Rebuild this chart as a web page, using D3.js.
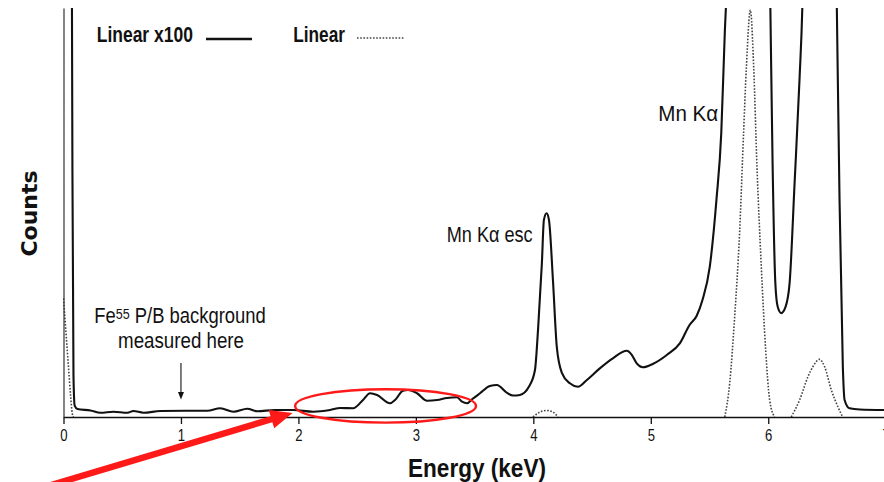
<!DOCTYPE html>
<html>
<head>
<meta charset="utf-8">
<script src="https://cdn.jsdelivr.net/npm/d3@7"></script>
<style>
  html, body { margin: 0; padding: 0; background: #fff; }
  svg { display: block; }
</style>
</head>
<body>
<svg id="chart" width="884" height="482"></svg>
<script>
// ---------------- data (energy keV, relative counts) ----------------
const xTicks = [0, 1, 2, 3, 4, 5, 6, 7];

// "Linear x100" spectrum (solid)
const linearX100 = [
  [0.068,140],[0.076,60],[0.085,10],[0.095,2.8],[0.119,1.96],[0.23,1.6],[0.315,1.05],
  [0.425,1.3],[0.544,1.05],[0.595,1.47],[0.68,1.05],[0.825,1.47],[1.04,1.54],[1.224,1.54],
  [1.335,2.13],[1.446,1.3],[1.565,2.03],[1.65,1.4],[1.80,1.71],[1.956,1.71],[2.126,1.3],
  [2.27,1.71],[2.355,2.2],[2.466,2.13],[2.55,4.16],[2.61,5.8],[2.67,5.38],[2.78,3.35],
  [2.823,4.16],[2.89,6.43],[2.934,6.6],[3.01,5.8],[3.095,3.99],[3.18,4.16],[3.265,4.65],
  [3.35,4.82],[3.393,3.74],[3.435,3.35],[3.478,4.33],[3.546,5.8],[3.63,7.58],[3.69,7.82],
  [3.776,5.9],[3.827,5.25],[3.886,5.4],[3.962,7.4],[4.014,11.5],[4.04,21.3],[4.073,37.7],
  [4.09,48.2],[4.113,49.8],[4.133,48.2],[4.167,33.5],[4.2,17.1],[4.243,10.8],[4.311,8.24],
  [4.38,7.4],[4.456,9.05],[4.566,11.9],[4.677,14.35],[4.796,16.2],[4.838,15.2],[4.88,13.1],
  [4.932,12.15],[5.017,12.96],[5.136,15.16],[5.247,18.0],[5.33,22.5],[5.39,24.7],[5.44,28.6],
  [5.502,36.7],[5.559,53.1],[5.60,69.4],[5.63,93.9],[5.646,105],[5.68,150],[5.85,400],
  [5.99,150],[6.018,100],[6.037,62],[6.06,33],[6.08,27],[6.11,25.4],[6.148,27],[6.182,32.8],
  [6.224,57],[6.267,83],[6.29,100],[6.32,150],[6.45,300],[6.56,150],[6.584,100],[6.607,53.1],
  [6.635,12.3],[6.65,4.16],[6.692,2.13],[6.78,1.83],[7.0,1.71]
];

// "Linear" spectrum (dotted), drawn where it leaves the baseline
const linearLow = [[0,29],[0.0425,12.2],[0.06,5.4],[0.074,1.0],[0.085,0]];
const linearEsc = [[3.997,0],[4.056,1.2],[4.113,1.6],[4.167,1.2],[4.21,0]];
const linearKa  = [[5.63,0],[5.672,8.3],[5.714,24.5],[5.756,45],[5.79,69.4],[5.814,85.6],
  [5.848,99.5],[5.876,85.6],[5.904,61.2],[5.941,36.7],[5.978,16.4],[6.012,4.16],[6.054,0]];
const linearKb  = [[6.196,0],[6.267,4.16],[6.338,9.85],[6.38,12.3],[6.437,14.1],[6.48,12.3],
  [6.537,6.6],[6.593,2.5],[6.633,0]];

// ---------------- layout ----------------
const SANS = "'Liberation Sans',Arial,sans-serif";
const svg = d3.select("#chart");
const x = d3.scaleLinear().domain([0, 7]).range([63.5, 885.7]);
const y = d3.scaleLinear().domain([0, 100]).range([417, 8]);

svg.append("defs").append("clipPath").attr("id", "plotclip")
  .append("rect").attr("x", 63).attr("y", 8).attr("width", 830).attr("height", 412);

const line = d3.line().x(d => x(d[0])).y(d => y(d[1])).curve(d3.curveMonotoneX);
const plot = svg.append("g").attr("clip-path", "url(#plotclip)");

// dotted series
[linearLow, linearEsc, linearKa, linearKb].forEach(seg => {
  plot.append("path").datum(seg).attr("d", line)
    .attr("fill", "none").attr("stroke", "#444").attr("stroke-width", 1.6)
    .attr("stroke-dasharray", "1.6,1.6");
});

// solid series
plot.append("path").datum(linearX100).attr("d", line)
  .attr("fill", "none").attr("stroke", "#111").attr("stroke-width", 2.1)
  .attr("stroke-linejoin", "round");

// axes
const xAxis = svg.append("g").attr("transform", `translate(0,${y(0)})`)
  .call(d3.axisBottom(x).tickValues(xTicks).tickFormat(d3.format("d"))
    .tickSize(7).tickSizeOuter(0).tickPadding(6));
xAxis.select(".domain").attr("stroke", "#111").attr("stroke-width", 1.6);
xAxis.selectAll(".tick line").attr("stroke", "#111").attr("stroke-width", 1.3);
xAxis.selectAll(".tick text").attr("font-family", SANS).attr("font-size", 16)
  .attr("fill", "#111").attr("transform", "scale(0.82,1)");

const yAxis = svg.append("g").attr("transform", `translate(${x(0)},0)`)
  .call(d3.axisLeft(y).tickValues([]).tickSizeOuter(0));
yAxis.select(".domain").attr("stroke", "#333").attr("stroke-width", 1.2);

// text helper: places text at (px,py) and squeezes it horizontally to a width
function fitText(px, py, width, opts, build) {
  const g = svg.append("g").attr("transform", `translate(${px},${py})`);
  const t = g.append("text").attr("x", 0).attr("y", 0)
    .attr("font-family", opts.family || SANS)
    .attr("font-size", opts.size)
    .attr("font-weight", opts.weight || "normal")
    .attr("text-anchor", opts.anchor || "start")
    .attr("fill", "#111");
  if (typeof build === "string") t.text(build); else build(t);
  const w = t.node().getComputedTextLength();
  if (width && w > 0) t.attr("transform", `scale(${width / w},1)`);
  return t;
}

// axis titles
svg.append("text").attr("transform", "translate(36.5,213.5) rotate(-90)")
  .attr("text-anchor", "middle").attr("font-family", "'DejaVu Sans',sans-serif")
  .attr("font-weight", "bold").attr("font-size", 22).attr("fill", "#111").text("Counts");
fitText(477, 476.7, 138, {size: 25.5, weight: "bold", anchor: "middle"}, "Energy (keV)");

// legend
fitText(96.7, 42.3, 96.3, {size: 22, weight: "bold"}, "Linear x100");
svg.append("line").attr("x1", 206).attr("x2", 252).attr("y1", 39).attr("y2", 39)
  .attr("stroke", "#111").attr("stroke-width", 2.6);
fitText(293.3, 42.3, 51.7, {size: 22, weight: "bold"}, "Linear");
svg.append("line").attr("x1", 357).attr("x2", 405).attr("y1", 38).attr("y2", 38)
  .attr("stroke", "#444").attr("stroke-width", 1.6).attr("stroke-dasharray", "1.6,1.6");

// peak labels
fitText(658.3, 121, 60, {size: 22}, "Mn Kα");
fitText(446.7, 241.7, 86, {size: 22}, "Mn Kα esc");

// background note
fitText(180, 323.3, 171.7, {size: 22, anchor: "middle"}, t => {
  t.append("tspan").text("Fe");
  t.append("tspan").attr("font-size", 15).attr("dy", -4.5).text("55");
  t.append("tspan").attr("dy", 4.5).text(" P/B background");
});
fitText(181, 348.3, 126, {size: 22, anchor: "middle"}, "measured here");

// small black arrow
const ax = x(1);
svg.append("line").attr("x1", ax).attr("x2", ax).attr("y1", 363).attr("y2", 393)
  .attr("stroke", "#111").attr("stroke-width", 1.1);
svg.append("path").attr("d", `M${ax-3},392 L${ax+3},392 L${ax},399.5 Z`).attr("fill", "#111");

// red ellipse
svg.append("ellipse").attr("cx", x(2.742)).attr("cy", y(2.7))
  .attr("rx", x(2.742) - x(1.972)).attr("ry", 16.7)
  .attr("fill", "none").attr("stroke", "#ff1a1a").attr("stroke-width", 2.4);

// red arrow
const tip = [x(1.95), y(1.0)];
const tail = [48, 486];
const ang = Math.atan2(tip[1] - tail[1], tip[0] - tail[0]);
const headLen = 22, headHalf = 9.5, shaftHalf = 3.2;
const ux = Math.cos(ang), uy = Math.sin(ang), nx = -uy, ny = ux;
const bx = tip[0] - ux * headLen, by = tip[1] - uy * headLen;
const pts = [
  [tail[0] + nx * shaftHalf, tail[1] + ny * shaftHalf],
  [bx + nx * shaftHalf, by + ny * shaftHalf],
  [bx + nx * headHalf, by + ny * headHalf],
  tip,
  [bx - nx * headHalf, by - ny * headHalf],
  [bx - nx * shaftHalf, by - ny * shaftHalf],
  [tail[0] - nx * shaftHalf, tail[1] - ny * shaftHalf]
];
svg.append("path").attr("d", "M" + pts.map(p => p.join(",")).join("L") + "Z").attr("fill", "#ff1a1a");
</script>
</body>
</html>
